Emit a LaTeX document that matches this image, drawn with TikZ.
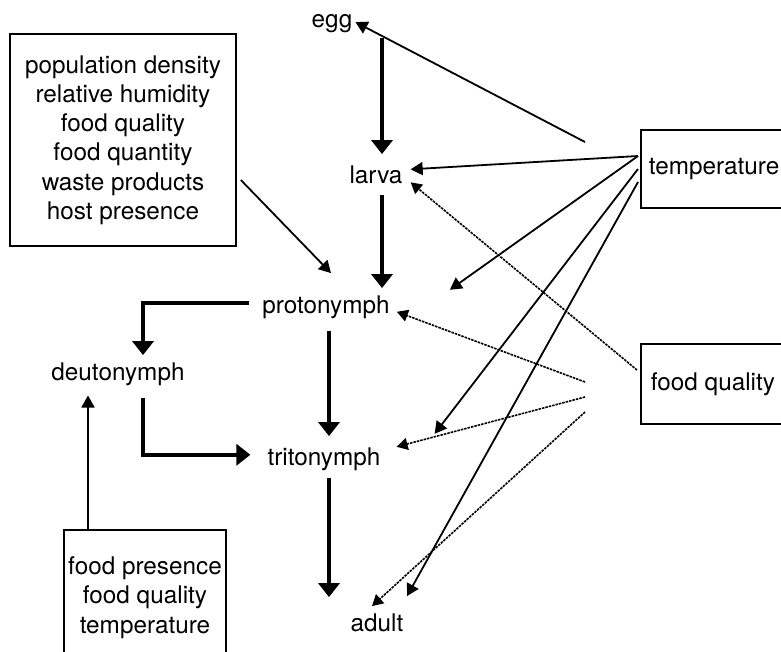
\documentclass[tikz,border=0pt]{standalone}
\usepackage{fontspec}
\setmainfont{TeX Gyre Heros}
\usetikzlibrary{positioning,calc,arrows.meta}
\tikzstyle{stage}=[anchor=base, inner sep=0pt]
\tikzstyle{factor}=[draw=black, line width=1.7pt, align=center, inner sep=0pt]
\tikzstyle{develop}=[line width=4.2pt, -{Triangle[width=21pt,length=14pt]}]
\tikzstyle{effect}=[line width=1.8pt, -{Triangle[width=13pt,length=12pt]}]
\tikzstyle{weakeffect}=[line width=1.6pt, dash pattern=on 2.5pt off 1pt, -{Triangle[width=12pt,length=11pt]}]

\begin{document}
\begin{tikzpicture}[x=1pt, y=-1pt, font=\fontsize{24.3}{29.2}\selectfont]
  \useasboundingbox (0,0) rectangle (781,651);
  \clip (0,0) rectangle (781,651);
  \fill[white] (0,0) rectangle (781,651);

  % life stages
  \node [stage] at (332, 27) (egg) {egg};
  \node [stage] at (376, 183) (larva) {larva};
  \node [stage] at (326, 313) (proto) {protonymph};
  \node [stage] at (118, 380) (deuto) {deutonymph};
  \node [stage] at (324, 465) (trito) {tritonymph};
  \node [stage] at (377, 631) (adult) {adult};

  % factors
  \node [factor, minimum width=226, minimum height=212] at (123, 140) (habitat)
    {population density\\relative humidity\\food quality\\food quantity\\waste products\\host presence};
  \node [factor, anchor=west, minimum height=78, inner xsep=8] at (640, 169) (temp) {temperature};
  \node [factor, anchor=west, minimum height=80, inner xsep=10] at (640, 384) (food) {food quality};
  \node [factor, anchor=north, inner xsep=4, inner ysep=27] at (145, 529) (hatch)
    {food presence\\food quality\\temperature};

  \coordinate (t0) at ($(temp.west)+(-55,-27)$);
  \coordinate (t1) at ($(temp.west)+(-2,-13)$);
  \coordinate (t2) at ($(temp.west)+(-2,0)$);
  \coordinate (t3) at ($(temp.west)+(-2,13)$);
  \coordinate (f0) at ($(food.west)+(-3,-14)$);
  \coordinate (f1) at ($(food.west)+(-55,-2)$);
  \coordinate (f2) at ($(food.west)+(-55,13)$);
  \coordinate (f3) at ($(food.west)+(-55,28)$);

  % development
  \draw [develop] ($(egg.base)+(50,11)$) -- ($(larva.north)+(6,-11)$);
  \draw [develop] ($(larva.base)+(6,12)$) -- ($(proto.north)+(56,-7)$);
  \draw [develop] ($(proto.west)+(-13,-4)$) -| ($(deuto.north)+(25,-7)$);
  \draw [develop] ($(deuto.south)+(25,12)$) |- ($(trito.west)+(-17,-4)$);
  \draw [develop] ($(proto.south)+(3,12)$) -- ($(trito.north)+(5,-11)$);
  \draw [develop] ($(trito.south)+(5,7)$) -- ($(adult.north)+(-48,-16)$);

  \draw [effect] ($(habitat.east)+(4,40)$) -- ($(proto.north)+(5,-22)$);
  \draw [effect] (hatch.north -| {$(deuto.south)+(-30,0)$}) -- ($(deuto.south)+(-30,10)$);

  % temperature
  \draw [effect] (t0) -- ($(egg.east)+(3,-1)$);
  \draw [effect] (t1) -- ($(larva.east)+(8,-5)$);
  \draw [effect] (t1) -- ($(proto.east)+(60,-17)$);
  \draw [effect] (t2) -- ($(trito.east)+(54,-25)$);
  \draw [effect] (t3) -- ($(adult.north)+(30,-17)$);

  % food quality
  \draw [weakeffect] (f0) -- ($(larva.east)+(8,8)$);
  \draw [weakeffect] (f1) -- ($(proto.east)+(7,5)$);
  \draw [weakeffect] (f2) -- ($(trito.east)+(16,-12)$);
  \draw [weakeffect] (f3) -- ($(adult.north)+(-5,-7)$);
\end{tikzpicture}
\end{document}
